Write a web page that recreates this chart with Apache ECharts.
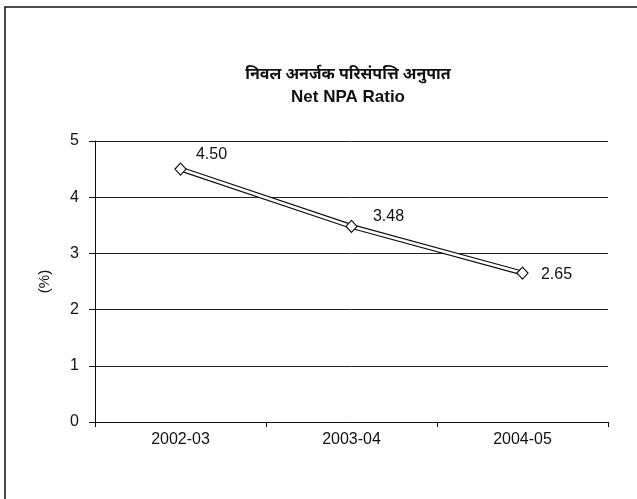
<!DOCTYPE html>
<html>
<head>
<meta charset="utf-8">
<script src="https://cdn.jsdelivr.net/npm/echarts@6/dist/echarts.min.js"></script>
<style>
html,body{margin:0;padding:0;background:#fff;}
#c{width:637px;height:499px;}
</style>
</head>
<body>
<div id="c"></div>
<script>
var titleHindi = 'निवल अनर्जक परिसंपत्ति अनुपात';
var titleEnglish = 'Net NPA Ratio';
var yAxisName = '(%)';
var categories = ['2002-03', '2003-04', '2004-05'];
var netNpaRatio = [4.50, 3.48, 2.65];
var yTicks = [0, 1, 2, 3, 4, 5];

var FONT = '"Liberation Sans", Arial, sans-serif';
var chart = echarts.init(document.getElementById('c'), null, {renderer: 'canvas'});
var labelOffsets = [[31, -15], [37, -10], [34, 2]];

chart.setOption({
  animation: false,
  backgroundColor: '#ffffff',
  title: [
    {text: titleHindi, left: 343, top: 63, textAlign: 'center',
     textStyle: {fontFamily: '"Noto Sans Devanagari", "Noto Sans", "Lohit Devanagari", sans-serif', fontSize: 16, fontWeight: 'bold', color: '#111'}},
    {text: titleEnglish, left: 343, top: 84, textAlign: 'center',
     textStyle: {fontFamily: FONT, fontSize: 17, fontWeight: 'bold', color: '#111'}}
  ],
  graphic: [{
    type: 'rect', shape: {x: 5, y: 7, width: 700, height: 600},
    style: {fill: 'none', stroke: '#111', lineWidth: 1.5}, silent: true
  }],
  grid: {left: 95, right: 29, top: 141, bottom: 77, containLabel: false},
  xAxis: {
    type: 'category', data: categories, boundaryGap: true,
    axisLine: {lineStyle: {color: '#111', width: 1}},
    axisTick: {show: true, inside: false, length: 5, lineStyle: {color: '#111'}},
    axisLabel: {fontFamily: FONT, fontSize: 16, color: '#111', margin: 10}
  },
  yAxis: {
    type: 'value', min: yTicks[0], max: yTicks[yTicks.length - 1], interval: 1,
    name: yAxisName, nameLocation: 'middle', nameGap: 43, nameRotate: 90,
    nameTextStyle: {fontFamily: FONT, fontSize: 15, color: '#111'},
    axisLine: {show: true, lineStyle: {color: '#111', width: 1}},
    axisTick: {show: true, inside: false, length: 6, lineStyle: {color: '#111'}},
    axisLabel: {fontFamily: FONT, fontSize: 16, color: '#111', margin: 16},
    splitLine: {show: true, lineStyle: {color: '#222', width: 1}}
  },
  series: [
    {
      type: 'line', data: netNpaRatio, symbol: 'none', z: 2,
      lineStyle: {color: '#111', width: 5}, silent: true
    },
    {
      type: 'line', z: 3,
      data: netNpaRatio.map(function (v, i) {
        return {value: v, label: {offset: labelOffsets[i]}};
      }),
      symbol: 'diamond', symbolSize: [11, 12],
      itemStyle: {color: '#fff', borderColor: '#111', borderWidth: 1.2},
      lineStyle: {color: '#fff', width: 2.6},
      label: {show: true, position: 'inside', fontFamily: FONT, fontSize: 16, color: '#111',
        formatter: function (p) { return p.value.toFixed(2); }}
    }
  ]
});
</script>
</body>
</html>
